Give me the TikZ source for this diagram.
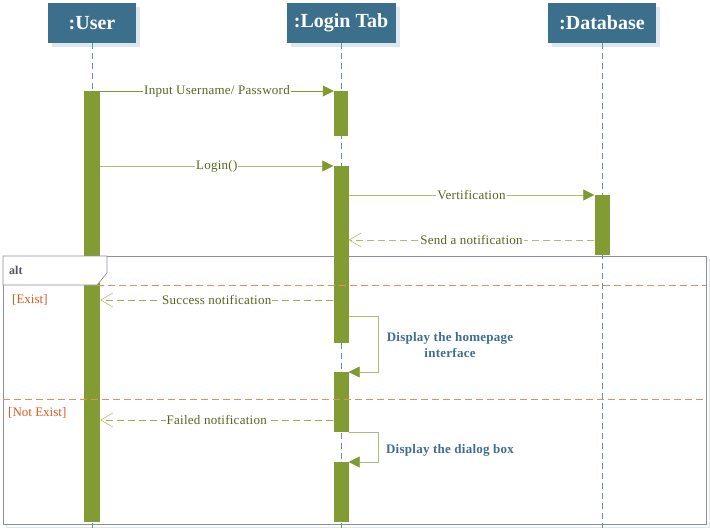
\documentclass[tikz,border=0pt]{standalone}
\usepackage{fontspec}
\setmainfont{Liberation Serif}
\usetikzlibrary{arrows.meta,shadows}
\definecolor{head-blue}{HTML}{3B6F8C}
\definecolor{head-shadow}{HTML}{DCE8EE}
\definecolor{bar-green}{HTML}{839B33}
\definecolor{call-dark}{HTML}{7E9A30}
\definecolor{call-light}{HTML}{ABBE76}
\definecolor{msg-text}{HTML}{56661F}
\definecolor{life-blue}{HTML}{6A90A8}
\definecolor{frame-gray}{HTML}{8C8CA2}
\definecolor{guard-orange}{HTML}{E05A20}
\definecolor{split-orange}{HTML}{EE8A55}
\definecolor{self-blue}{HTML}{3F6F8F}
\tikzset{
    head-box/.style = {fill=head-blue, text=white, font=\bfseries\fontsize{20}{23}\selectfont, minimum height=40pt, inner sep=0pt, general shadow={fill=head-shadow, shadow xshift=4pt, shadow yshift=-4pt}},
    life-line/.style = {draw=life-blue, thin, dash pattern=on 6pt off 4pt},
    act-bar/.style = {fill=bar-green, draw=none, minimum width=15pt, inner sep=0pt},
    call/.style = {draw=call-dark, thick, -{Triangle[length=11pt, width=11pt, color=call-dark]}},
    call-soft/.style = {call, draw=call-light},
    reply/.style = {draw=call-light, thick, dash pattern=on 7pt off 4pt, -{Straight Barb[length=12pt, width=14pt, line width=0.6pt, color=call-light]}},
    reply-dark/.style = {reply, draw=call-dark!80},
    msg-label/.style = {fill=white, text=msg-text, font=\fontsize{13}{15}\selectfont\addfontfeature{LetterSpace=2}, inner sep=1pt},
    self-label/.style = {text=self-blue, font=\bfseries\fontsize{13}{16}\selectfont\addfontfeature{LetterSpace=2}, align=center, inner sep=0pt},
    guard/.style = {text=guard-orange, font=\fontsize{13}{15}\selectfont, anchor=west, inner sep=0pt},
    alt-line/.style = {draw=frame-gray, semithick},
    split-line/.style = {draw=split-orange, semithick, dash pattern=on 7pt off 4pt},
}
\begin{document}
\begin{tikzpicture}[x=1pt, y=-1pt]
\useasboundingbox (0,0) rectangle (710,530);
\draw[draw=head-shadow, thick] (6,259) rectangle (709,527);
\draw[alt-line, fill=white] (3,256) rectangle (706,524);

\node[head-box, minimum width=88pt] (user) at (92,23) {:User};
\node[head-box, minimum width=109pt] (login) at (341,23) {:Login Tab};
\node[head-box, minimum width=108pt] (db) at (602,23) {:Database};
\coordinate (user-end) at (92,528);
\coordinate (login-end) at (341,528);
\coordinate (db-end) at (602,528);
\draw[life-line] (user.south) -- (user-end);
\draw[life-line] (login.south) -- (login-end);
\draw[life-line] (db.south) -- (db-end);

\node[act-bar, minimum width=16pt, minimum height=431pt, anchor=north] (user-bar) at (92,91) {};
\node[act-bar, minimum width=14pt, minimum height=45pt, anchor=north] (login-bar1) at (341,91) {};
\node[act-bar, minimum height=177pt, anchor=north] (login-bar2) at (341,166) {};
\node[act-bar, minimum height=60pt, anchor=north] (login-bar3) at (341,372) {};
\node[act-bar, minimum height=60pt, anchor=north] (login-bar4) at (341,462) {};
\node[act-bar, minimum height=60pt, anchor=north] (db-bar) at (602,195) {};

\draw[alt-line, fill=white] (3,256) -- (107,256) -- (107,273) -- (97,285) -- (3,285) -- cycle;
\node[anchor=west, text=frame-gray!60!black, font=\bfseries\fontsize{12}{14}\selectfont, inner sep=0pt] (alt) at (9,270) {alt};

\coordinate (notify-y) at (0,240);
\coordinate (exist-y) at (0,300);
\coordinate (fail-y) at (0,420);
\draw[split-line] (97,285) -- (706,285);
\draw[split-line] (3,399) -- (706,399);
\node[guard] (exist) at (12,300) {[Exist]};
\node[guard] (not-exist) at (8,413) {[Not Exist]};

\draw[call] (user-bar.north east) -- node[msg-label] {Input Username/ Password} (login-bar1.north west);
\draw[call-soft] (user-bar.east |- login-bar2.north) -- node[msg-label] {Login()} (login-bar2.north west);
\draw[call-soft] (login-bar2.east |- db-bar.north) -- node[msg-label] {Vertification} (db-bar.north west);
\draw[reply] (db-bar.west |- notify-y) -- node[msg-label] {Send a notification} (login-bar2.east |- notify-y);
\draw[reply-dark] (login-bar2.west |- exist-y) -- node[msg-label] {Success notification} (user-bar.east |- exist-y);
\draw[reply-dark] (login-bar3.west |- fail-y) -- node[msg-label] {Failed notification} (user-bar.east |- fail-y);

\draw[call-soft] ([yshift=27pt]login-bar2.south east) -- ++(30,0) |- (login-bar3.north east);
\draw[call-soft] (login-bar3.south east) -- ++(30,0) |- (login-bar4.north east);
\node[self-label] (homepage) at (450,345) {Display the homepage\\interface};
\node[self-label] (dialog) at (450,450) {Display the dialog box};
\end{tikzpicture}
\end{document}
